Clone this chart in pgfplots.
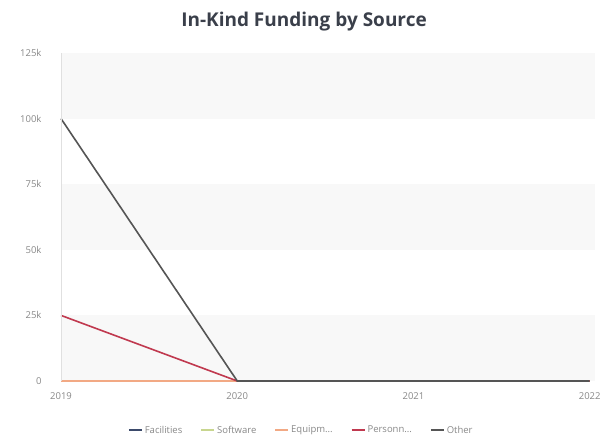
\documentclass[border=0pt]{standalone}
\usepackage{fontspec}
\setmainfont{Open Sans}
\usepackage{pgfplots}
\pgfplotsset{compat=1.18}
\definecolor{cFac}{HTML}{3B4A6B}
\definecolor{cSoft}{HTML}{C8D68F}
\definecolor{cEq}{HTML}{F2A984}
\definecolor{cPer}{HTML}{C0394F}
\definecolor{cOth}{HTML}{555555}
\definecolor{band}{HTML}{F8F8F8}
\definecolor{tickc}{HTML}{888888}
\definecolor{titlec}{HTML}{3A3F4A}
\begin{document}
\begin{tikzpicture}[x=1pt,y=1pt]
\useasboundingbox (0,0) rectangle (601,435);
\node[font=\bfseries\fontsize{19}{22}\selectfont, text=titlec] at (304,413) {In-Kind Funding by Source};
\begin{axis}[
  at={(61pt,54pt)}, anchor=origin,
  scale only axis, width=534pt, height=328pt,
  xmin=2019, xmax=2022.03, ymin=0, ymax=125000,
  axis x line=none,
  axis y line*=left,
  axis on top,
  scaled y ticks=false,
  y axis line style={draw=black!12, line width=0.8pt},
  ytick={0,25000,50000,75000,100000,125000},
  yticklabels={0,25k,50k,75k,100k,125k},
  ytick style={draw=none},
  yticklabel style={font=\fontsize{9.5}{11}\selectfont, text=tickc, anchor=east, xshift=-16pt},
  /pgf/number format/assume math mode=true,
  clip=false,
  legend style={at={(0.45,-0.150)}, anchor=center, draw=none, fill=none,
    legend columns=5, font=\fontsize{9.5}{11}\selectfont, text=tickc,
    /tikz/every even column/.append style={column sep=16pt}},
  legend image code/.code={\draw[#1, line width=1.8pt] (0pt,0pt) -- (13pt,0pt);},
]
\fill[band] (axis cs:2019,0) rectangle (axis cs:2022.03,25000);
\fill[band] (axis cs:2019,50000) rectangle (axis cs:2022.03,75000);
\fill[band] (axis cs:2019,100000) rectangle (axis cs:2022.03,125000);
\foreach \yr/\lab in {2019/2019,2020/2020,2021/2021,2022/2022}{
  \edef\tmp{\noexpand\node[font=\noexpand\fontsize{9.5}{11}\noexpand\selectfont, text=tickc] at (axis cs:\yr,0) [yshift=-15pt] {\lab};}\tmp
}
\addplot[cFac, line width=1.6pt] coordinates {(2019,0) (2020,0) (2021,0) (2022,0)};
\addlegendentry{Facilities}
\addplot[cSoft, line width=1.6pt] coordinates {(2019,0) (2020,0) (2021,0) (2022,0)};
\addlegendentry{Software}
\addplot[cEq, line width=1.6pt] coordinates {(2019,0) (2020,0) (2021,0) (2022,0)};
\addlegendentry{Equipm...}
\addplot[cPer, line width=1.6pt] coordinates {(2019,25000) (2020,0) (2021,0) (2022,0)};
\addlegendentry{Personn...}
\addplot[cOth, line width=1.6pt] coordinates {(2019,100000) (2020,0) (2021,0) (2022,0)};
\addlegendentry{Other}
\end{axis}
\end{tikzpicture}
\end{document}
